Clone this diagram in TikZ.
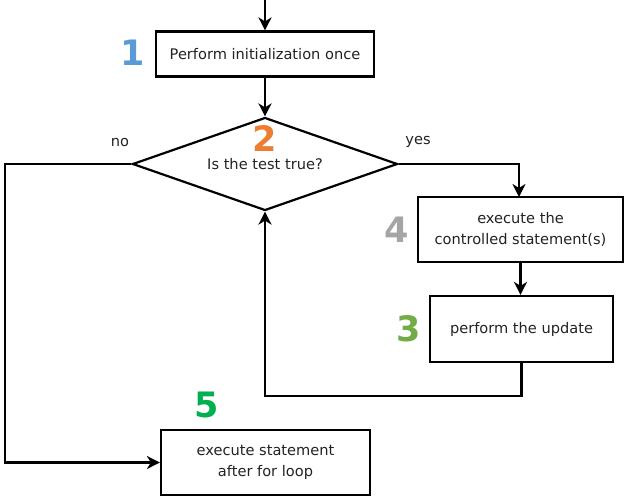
\documentclass[tikz,border=0pt]{standalone}
\usepackage{fontspec}
\setmainfont{DejaVu Sans}
\usetikzlibrary{shapes.geometric,arrows.meta}
\definecolor{cone}{HTML}{5B9BD5}
\definecolor{ctwo}{HTML}{ED7D31}
\definecolor{cthree}{HTML}{70AD47}
\definecolor{cfour}{HTML}{A5A5A5}
\definecolor{cfive}{HTML}{00B050}
\definecolor{txt}{HTML}{222222}
\tikzset{
  box/.style={draw=black, line width=2.2pt, rectangle, inner sep=0pt, align=center,
    text=txt, font=\fontsize{14.6}{21}\selectfont},
  num/.style={font=\fontsize{35}{35}\selectfont\bfseries, inner sep=0pt},
  lbl/.style={text=txt, font=\fontsize{14.6}{21}\selectfont, inner sep=0pt},
  flow/.style={draw=black, line width=2.2pt, -{Stealth[length=13pt,width=13pt,inset=4pt]}}
}
\begin{document}
\begin{tikzpicture}[x=1pt,y=-1pt]
\useasboundingbox (0,0) rectangle (629,501);
\coordinate (top) at (265,0);
\node[box, minimum width=218pt, minimum height=45pt] (b1) at (265,54) {Perform initialization once};
\node[draw=black, line width=2.2pt, diamond, minimum width=265pt, minimum height=93pt, inner sep=0pt] (d) at (265,164) {};
\node[lbl] (dt) at (265,164) {Is the test true?};
\node[box, minimum width=205pt, minimum height=65pt] (b4) at (520.5,229.5) {execute the\\controlled statement(s)};
\node[box, minimum width=183pt, minimum height=66pt] (b3) at (521.5,329) {perform the update};
\node[box, minimum width=209pt, minimum height=65pt] (b5) at (265.5,462.5) {execute statement\\after for loop};
\node[num, text=cone] (n1) at (133,53) {1};
\node[num, text=ctwo] (n2) at (265,139) {2};
\node[num, text=cfour] (n4) at (397,230) {4};
\node[num, text=cthree] (n3) at (409,329) {3};
\node[num, text=cfive] (n5) at (207,405) {5};
\node[lbl] (no) at (120,143) {no};
\node[lbl] (yes) at (418,142) {yes};
\coordinate (nocorner) at (5,164);
\draw[flow] (top) -- (b1.north);
\draw[flow] (b1.south) -- (d.north);
\draw[flow] (d.east) -| (519,197);
\draw[flow] (b4.south) -- (b4.south |- b3.north);
\draw[flow] (b3.south) -- ++(0,33) -| (d.south);
\draw[flow] (d.west) -- (nocorner) |- (b5.west);
\end{tikzpicture}
\end{document}
